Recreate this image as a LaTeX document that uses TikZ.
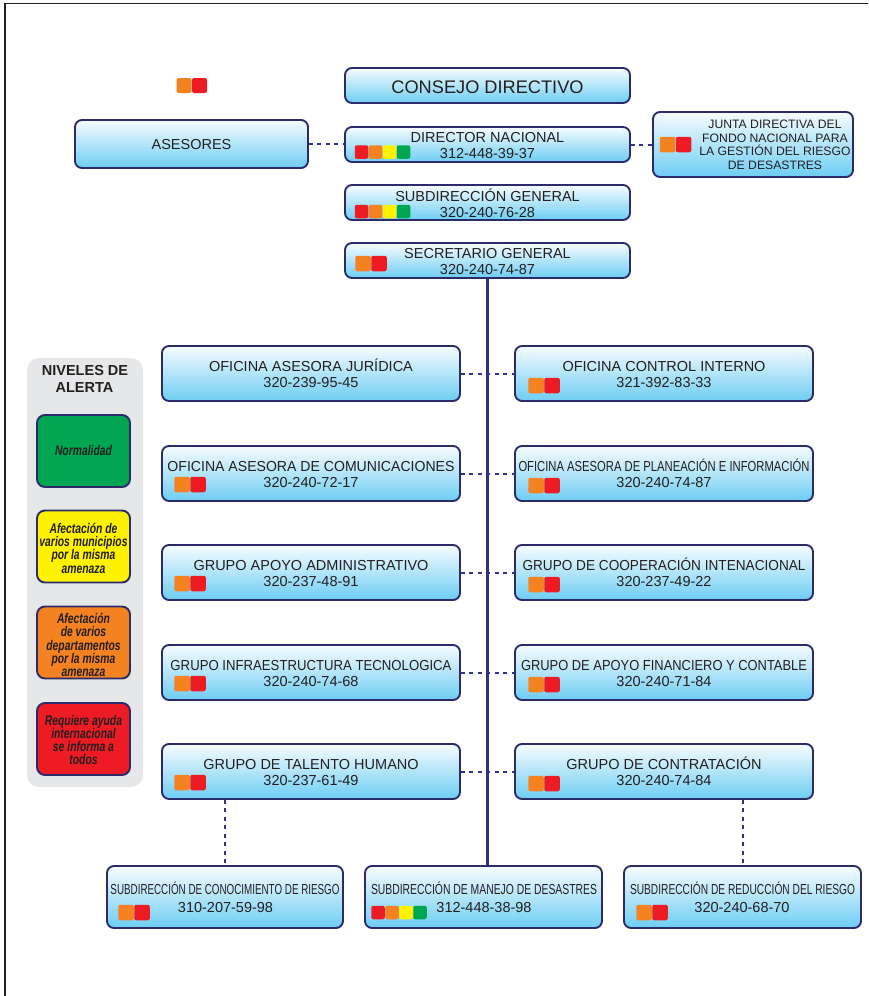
\documentclass[tikz,border=0pt]{standalone}
\usepackage{fontspec}
\usepackage{graphicx}
\setmainfont{Liberation Sans}
\newfontfamily\legfont{Liberation Sans}[FakeStretch=0.74]
\definecolor{ctext}{HTML}{231F20}
\definecolor{cnavy}{HTML}{2B2A6B}
\definecolor{cconn}{HTML}{2E3192}
\definecolor{cboxtop}{HTML}{F7FCFF}
\definecolor{cboxbot}{HTML}{6DCDF3}
\definecolor{cgray}{HTML}{E6E7E8}
\definecolor{corange}{HTML}{F58220}
\definecolor{cred}{HTML}{ED1C24}
\definecolor{cyellow}{HTML}{FFF200}
\definecolor{cgreen}{HTML}{00A651}
\newcommand{\fitw}[2]{\resizebox{#1pt}{\height}{#2}}
\newcommand{\orgbox}[5]{\node[obox, minimum width=#4pt, minimum height=#5pt] (#1) at (#2,#3) {};}
\newcommand{\twolines}[5]{%
  \node[txt, anchor=base] (#1-a) at (#2,#3) {#4};
  \node[txt, anchor=base] (#1-b) at (#2,#3+16.5) {#5};}
\newcommand{\sqpair}[3]{%
  \node[sq, fill=corange] (#1-o) at (#2,#3) {};
  \node[sq, fill=cred] (#1-r) at (#2+16,#3) {};}
\newcommand{\sqfour}[3]{%
  \node[sqs, fill=cred] (#1-q1) at (#2,#3) {};
  \node[sqs, fill=corange] (#1-q2) at (#2+14,#3) {};
  \node[sqs, fill=cyellow] (#1-q3) at (#2+28,#3) {};
  \node[sqs, fill=cgreen] (#1-q4) at (#2+42,#3) {};}
\begin{document}
\begin{tikzpicture}[x=1pt,y=-1pt,
  obox/.style={draw=cnavy, line width=1.9pt, rounded corners=7pt, top color=cboxtop, bottom color=cboxbot, inner sep=0pt},
  lbox/.style={draw=cnavy, line width=1.9pt, rounded corners=8pt, minimum width=93pt, minimum height=72pt, inner sep=0pt},
  txt/.style={inner sep=0pt, text=ctext, font=\fontsize{14.5}{16}\selectfont},
  sq/.style={minimum size=15.5pt, inner sep=0pt, rounded corners=2pt},
  sqs/.style={minimum size=13.5pt, inner sep=0pt, rounded corners=2pt},
  conn/.style={draw=cconn, line width=2.1pt},
  dconn/.style={draw=cconn, line width=2pt, dash pattern=on 4pt off 4.5pt},
  legtxt/.style={inner sep=0pt, align=center, text=ctext, font=\legfont\bfseries\itshape\fontsize{14}{13.3}\selectfont}
]
\useasboundingbox (0,0) rectangle (868,996);
\draw[ctext, line width=1.6pt] (5,996) -- (5,3.5) -- (868,3.5);

% top legend squares
\node[sq, fill=corange, minimum size=15pt] (topsq-o) at (184,85.5) {};
\node[sq, fill=cred, minimum size=15pt] (topsq-r) at (199.5,85.5) {};

% central column
\orgbox{consejo}{487.5}{85.5}{285}{35}
\node[txt, anchor=base, font=\fontsize{18.2}{20}\selectfont] (consejo-t) at (487.5,93) {CONSEJO DIRECTIVO};

\orgbox{director}{487.5}{144.5}{285}{35}
\twolines{director}{487.5}{142.2}{DIRECTOR NACIONAL}{312-448-39-37}
\sqfour{director}{361.5}{152}

\orgbox{subdir}{487.5}{202.5}{285}{35}
\twolines{subdir}{487.5}{201}{SUBDIRECCIÓN GENERAL}{320-240-76-28}
\sqfour{subdir}{361.5}{211.5}

\orgbox{sec}{487.5}{260.5}{285}{35}
\twolines{sec}{487.5}{258}{SECRETARIO GENERAL}{320-240-74-87}
\sqpair{sec}{363}{263.5}

\orgbox{asesores}{191.5}{144}{233}{48}
\node[txt, anchor=base] (asesores-t) at (191.5,149.5) {ASESORES};

\orgbox{junta}{753}{144.5}{200}{65}
\node[txt, anchor=base, font=\fontsize{12.2}{13}\selectfont] (junta-t1) at (775,128.4) {JUNTA DIRECTIVA DEL};
\node[txt, anchor=base, font=\fontsize{12.2}{13}\selectfont] (junta-t2) at (775,142.2) {FONDO NACIONAL PARA};
\node[txt, anchor=base, font=\fontsize{12.2}{13}\selectfont] (junta-t3) at (775,155.6) {LA GESTIÓN DEL RIESGO};
\node[txt, anchor=base, font=\fontsize{12.2}{13}\selectfont] (junta-t4) at (775,169.4) {DE DESASTRES};
\sqpair{junta}{667.5}{144.5}

% left column
\orgbox{juridica}{311}{373.5}{298}{55}
\twolines{juridica}{311}{371}{OFICINA ASESORA JURÍDICA}{320-239-95-45}

\orgbox{comunic}{311}{473.5}{298}{55}
\twolines{comunic}{311}{471}{\fitw{287}{OFICINA ASESORA DE COMUNICACIONES}}{320-240-72-17}
\sqpair{comunic}{182}{484.5}

\orgbox{admin}{311}{572.5}{298}{55}
\twolines{admin}{311}{570}{GRUPO APOYO ADMINISTRATIVO}{320-237-48-91}
\sqpair{admin}{182}{583.5}

\orgbox{infra}{311}{672.5}{298}{55}
\twolines{infra}{311}{670}{\fitw{281}{GRUPO INFRAESTRUCTURA TECNOLOGICA}}{320-240-74-68}
\sqpair{infra}{182}{683.5}

\orgbox{talento}{311}{771.5}{298}{55}
\twolines{talento}{311}{769}{GRUPO DE TALENTO HUMANO}{320-237-61-49}
\sqpair{talento}{182}{782.5}

% right column
\orgbox{control}{664}{373.5}{298}{55}
\twolines{control}{664}{371}{OFICINA CONTROL INTERNO}{321-392-83-33}
\sqpair{control}{536}{385.5}

\orgbox{planea}{664}{473.5}{298}{55}
\twolines{planea}{664}{471}{\fitw{291}{OFICINA ASESORA DE PLANEACIÓN E INFORMACIÓN}}{320-240-74-87}
\sqpair{planea}{536}{485.5}

\orgbox{coop}{664}{572.5}{298}{55}
\twolines{coop}{664}{570}{\fitw{283}{GRUPO DE COOPERACIÓN INTENACIONAL}}{320-237-49-22}
\sqpair{coop}{536}{584.5}

\orgbox{financ}{664}{672.5}{298}{55}
\twolines{financ}{664}{670}{\fitw{286}{GRUPO DE APOYO FINANCIERO Y CONTABLE}}{320-240-71-84}
\sqpair{financ}{536}{684.5}

\orgbox{contrat}{664}{771.5}{298}{55}
\twolines{contrat}{664}{769}{GRUPO DE CONTRATACIÓN}{320-240-74-84}
\sqpair{contrat}{536}{783.5}

% bottom row
\orgbox{conoc}{225}{897}{236}{62}
\node[txt, anchor=base] (conoc-a) at (225,894) {\fitw{229}{SUBDIRECCIÓN DE CONOCIMIENTO DE RIESGO}};
\node[txt, anchor=base] (conoc-b) at (225.5,912) {310-207-59-98};
\sqpair{conoc}{126}{912.5}

\orgbox{manejo}{483.5}{897}{237}{62}
\node[txt, anchor=base] (manejo-a) at (484,894) {\fitw{226}{SUBDIRECCIÓN DE MANEJO DE DESASTRES}};
\node[txt, anchor=base] (manejo-b) at (484,912) {312-448-38-98};
\sqfour{manejo}{378}{912.5}

\orgbox{reduc}{742.5}{897}{237}{62}
\node[txt, anchor=base] (reduc-a) at (742.5,894) {\fitw{225}{SUBDIRECCIÓN DE REDUCCIÓN DEL RIESGO}};
\node[txt, anchor=base] (reduc-b) at (742,912) {320-240-68-70};
\sqpair{reduc}{644}{912.5}

% connectors
\draw[dconn] (asesores.east) -- (asesores.east -| director.west);
\draw[dconn] (director.east) -- (director.east -| junta.west);
\draw[conn] (sec.south) -- (sec.south |- manejo.north);
\foreach \l/\r in {juridica/control, comunic/planea, admin/coop, infra/financ, talento/contrat}{
  \draw[dconn] (\l.east) -- (\r.west);
}
\draw[dconn] (talento.south -| conoc.north) -- (conoc.north);
\draw[dconn] (contrat.south -| reduc.north) -- (reduc.north);

% legend
\node[fill=cgray, rounded corners=12pt, minimum width=116pt, minimum height=429pt, inner sep=0pt] (legend) at (85,572.5) {};
\node[anchor=base, inner sep=0pt, text=ctext, font=\bfseries\fontsize{14.5}{16}\selectfont] (legtitle1) at (85,375) {NIVELES DE};
\node[anchor=base, inner sep=0pt, text=ctext, font=\bfseries\fontsize{14.5}{16}\selectfont] (legtitle2) at (84.5,392) {ALERTA};
\node[lbox, fill=cgreen] (lgreen) at (83.5,451) {};
\node[legtxt] (lgreen-t) at (83.5,450) {Normalidad};
\node[lbox, fill=cyellow] (lyellow) at (83.5,546.5) {};
\node[legtxt] (lyellow-t) at (83.5,548) {Afectación de\\varios municipios\\por la misma\\amenaza};
\node[lbox, fill=corange] (lorange) at (83.5,642.5) {};
\node[legtxt] (lorange-t) at (83.5,645) {Afectación\\de varios\\departamentos\\por la misma\\amenaza};
\node[lbox, fill=cred] (lred) at (83.5,739) {};
\node[legtxt] (lred-t) at (83.5,740) {Requiere ayuda\\internacional\\se informa a\\todos};
\end{tikzpicture}
\end{document}
